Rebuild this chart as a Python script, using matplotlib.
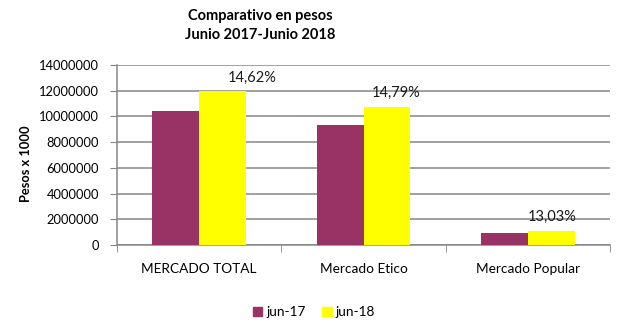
import numpy as np
import matplotlib.pyplot as plt
from matplotlib.patches import Patch

plt.rcParams['font.family'] = ['Lato', 'DejaVu Sans']

categories = ['MERCADO TOTAL', 'Mercado Etico', 'Mercado Popular']
jun_17 = [10420000, 9330000, 950000]
jun_18 = [11940000, 10710000, 1070000]
pct_labels = ['14,62%', '14,79%', '13,03%']
series_names = ['jun-17', 'jun-18']
colors = ['#993366', '#FFFF00']

fig = plt.figure(figsize=(6.24, 3.28), dpi=100)
ax = fig.add_axes([0.1875, 0.253, 0.7901, 0.549])

x = np.arange(len(categories))
width = 0.285
ax.bar(x - width / 2, jun_17, width, color=colors[0], zorder=3)
ax.bar(x + width / 2, jun_18, width, color=colors[1], zorder=3)

label_dx = [30, 9, 1]  # px shift of the % labels
for xi, val, txt, dx in zip(x, jun_18, pct_labels, label_dx):
    ax.annotate(txt, (xi + width / 2, val), xytext=(dx * 0.72, 5),
                textcoords='offset points', ha='center', va='bottom',
                fontsize=10.5, color='#1a1a1a', zorder=4)

ax.set_xlim(-0.5, len(categories) - 0.5)
ax.set_ylim(0, 14000000)
ax.set_yticks(np.arange(0, 14000001, 2000000))
ax.set_yticklabels([str(v) for v in range(0, 14000001, 2000000)])
ax.yaxis.grid(True, color='#868686', linewidth=1.1, zorder=0)
ax.tick_params(axis='y', length=5, color='#868686', labelsize=9.3, pad=8)

ax.set_xticks(x)
ax.set_xticklabels(categories)
ax.tick_params(axis='x', length=0, labelsize=9.8, pad=13)
ax.set_xticks(np.arange(-0.5, len(categories), 1.0), minor=True)
ax.tick_params(axis='x', which='minor', length=5, color='#868686')

for side in ['top', 'right']:
    ax.spines[side].set_visible(False)
for side in ['left', 'bottom']:
    ax.spines[side].set_color('#868686')
    ax.spines[side].set_linewidth(1.1)

ax.set_ylabel('Pesos x 1000', fontsize=9.3, fontweight='bold')
ax.yaxis.set_label_coords(-0.172, 0.45)

fig.text(0.417, 0.95, 'Comparativo en pesos', ha='center', va='center',
         fontsize=10.5, fontweight='bold')
fig.text(0.417, 0.893, 'Junio 2017-Junio 2018', ha='center', va='center',
         fontsize=10.5, fontweight='bold')

handles = [Patch(color=c) for c in colors]
fig.legend(handles, series_names, loc='center', bbox_to_anchor=(0.503, 0.048),
           ncol=2, frameon=False, fontsize=9.8, handlelength=0.7,
           handleheight=0.7, handletextpad=0.3, columnspacing=1.2)

fig.savefig('out.png', dpi=100, facecolor='white')
